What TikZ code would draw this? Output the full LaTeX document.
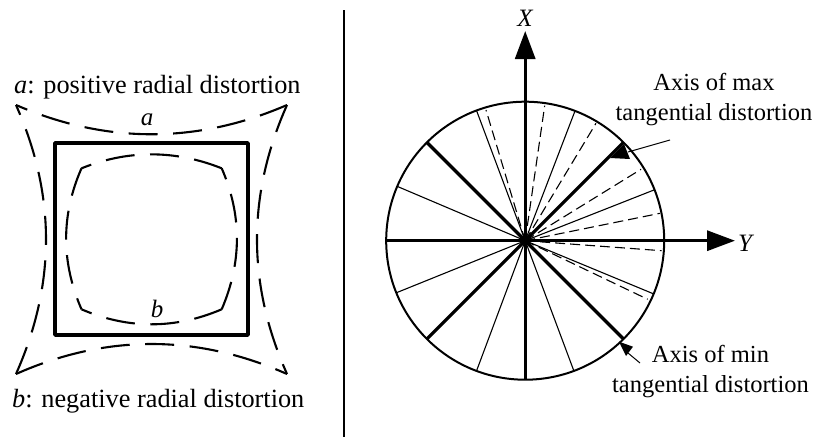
\documentclass[tikz,border=0pt]{standalone}
\usepackage{fontspec}
\setmainfont{Liberation Serif}
\usetikzlibrary{arrows.meta}

\begin{document}
\begin{tikzpicture}[x=1pt,y=-1pt,
    heavy/.style={line width=3.2pt},
    thin spoke/.style={line width=1.1pt},
    dashed spoke/.style={line width=1.1pt,dash pattern=on 10pt off 5pt},
    long dash/.style={line width=2.1pt,dash pattern=on 29pt off 15.5pt},
    axis/.style={line width=3.2pt,-{Triangle[length=28pt,width=20pt]}},
    label/.style={font=\fontsize{24.5}{30}\selectfont,inner sep=0pt},
    note/.style={font=\fontsize{26.3}{30}\selectfont,inner sep=0pt},
    letter/.style={font=\fontsize{25}{30}\selectfont\itshape,inner sep=0pt}]
    \useasboundingbox (0,0) rectangle (814,437);
    % left panel
    \coordinate (divtop) at (344,10);
    \coordinate (divbot) at (344,437);
    \draw[line width=2.4pt] (divtop) -- (divbot);
    \draw[line width=3.4pt,line join=round] (55,143) rectangle (248,335);
    % outer curve a
    \coordinate (atl) at (16,105);
    \coordinate (atr) at (287,105);
    \coordinate (abr) at (287,374);
    \coordinate (abl) at (16,374);
    \draw[long dash] (atr) .. controls (197,144) and (106,144) .. (atl);
    \draw[long dash] (atr) .. controls (247,195) and (247,284) .. (abr);
    \draw[long dash] (abl) .. controls (106,334) and (197,334) .. (abr);
    \draw[long dash] (abl) .. controls (56,284) and (56,195) .. (atl);
    % inner curve b
    \coordinate (btl) at (81.5,168.3);
    \coordinate (btr) at (221.7,168.3);
    \coordinate (bbr) at (221.7,309.3);
    \coordinate (bbl) at (81.5,309.3);
    \draw[long dash] (btr) .. controls (175,149.7) and (128,149.7) .. (btl);
    \draw[long dash] (bbr) .. controls (242,262) and (242,215) .. (btr);
    \draw[long dash] (bbr) .. controls (175,329.3) and (128,329.3) .. (bbl);
    \draw[long dash] (btl) .. controls (61,215) and (61,262) .. (bbl);
    \node[letter] (la) at (147,120) {a};
    \node[letter] (lb) at (157,309) {b};
    \node[note,anchor=base west] (posnote) at (14,93) {\textit{a}: positive radial distortion};
    \node[note,anchor=base west] (negnote) at (12,407) {\textit{b}: negative radial distortion};
    % right panel
    \coordinate (o) at (525.2,240.7);
    \draw[line width=2pt] (o) circle (139);
    \foreach \ang in {-21.5,-69,-110.5,-157,22.5,69.5,110.5,158}
        \draw[thin spoke] (o) -- ++(\ang:139);
    \foreach \ang in {45,135,225,315}
        \draw[heavy] (o) -- ++(\ang:139);
    \foreach \px/\py in {486/110,544.7/105.7,596/123.3,641/169.3,660/213.3,661.7/250.7,647.7/299.3}
        \draw[dashed spoke] (o) -- (\px,\py);
    \coordinate (xfoot) at (525.2,380);
    \coordinate (xtip) at (525.2,31);
    \coordinate (yfoot) at (386,240.7);
    \coordinate (ytip) at (735,240.7);
    \draw[axis] (xfoot) -- (xtip);
    \draw[axis] (yfoot) -- (ytip);
    \node[letter] (xlabel) at (525,18) {X};
    \node[letter] (ylabel) at (745,243) {Y};
    % leaders
    \coordinate (maxfoot) at (670,140);
    \coordinate (maxhead) at (628,152);
    \coordinate (minfoot) at (640,363);
    \coordinate (minhead) at (628,353);
    \draw[line width=1pt] (maxfoot) -- (maxhead);
    \draw[line width=1pt] (minfoot) -- (minhead);
    \fill (624,144) -- (610,158) -- (630,159) -- cycle;
    \fill (619,341.7) -- (633,346.7) -- (626,356) -- cycle;
    \node[label,align=center,anchor=base] (maxnote) at (714,120) {Axis of max\\tangential distortion};
    \node[label,align=center,anchor=base] (minnote) at (710.5,392.7) {Axis of min\\tangential distortion};
\end{tikzpicture}
\end{document}
